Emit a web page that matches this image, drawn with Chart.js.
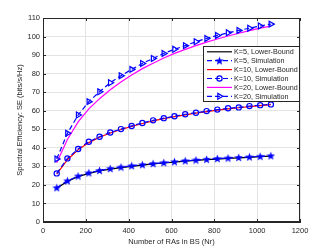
<!DOCTYPE html>
<html>
<head>
<meta charset="utf-8">
<script src="https://cdn.jsdelivr.net/npm/chart.js@4.4.1/dist/chart.umd.min.js"></script>
<style>html,body{margin:0;padding:0;background:#fff}</style>
</head>
<body>
<canvas id="chart" width="332" height="249"></canvas>
<script>
// Number of RAs in BS
const nr = [64, 114, 164, 214, 264, 314, 364, 414, 464, 514, 564, 614, 664, 714, 764, 814, 864, 914, 964, 1014, 1064];

// SE values
const k5LB  = [18.2, 21.9, 24.5, 26.2, 27.5, 28.5, 29.3, 30.0, 30.7, 31.3, 31.8, 32.3, 32.8, 33.2, 33.6, 33.9, 34.3, 34.6, 34.9, 35.2, 35.5];
const k5Sim = [18.5, 22.2, 24.8, 26.5, 27.8, 28.8, 29.6, 30.3, 30.9, 31.5, 32.0, 32.5, 33.0, 33.4, 33.8, 34.2, 34.5, 34.8, 35.1, 35.4, 35.7];
const k10LB  = [25.8, 33.6, 38.9, 42.8, 45.7, 48.0, 49.9, 51.6, 53.1, 54.5, 55.7, 56.8, 57.8, 58.7, 59.5, 60.3, 61.0, 61.6, 62.2, 62.8, 63.3];
const k10Sim = [26.2, 34.3, 39.4, 43.3, 46.0, 48.3, 50.1, 51.8, 53.4, 54.8, 56.0, 57.0, 58.1, 58.9, 59.8, 60.6, 61.3, 61.8, 62.5, 63.0, 63.4];
const k20LB  = [32.0, 44.5, 54.0, 61.0, 66.5, 71.3, 75.5, 79.3, 82.7, 85.6, 88.4, 90.9, 93.1, 95.1, 97.0, 98.7, 100.3, 101.8, 103.2, 104.5, 105.6];
const k20Sim = [34.0, 47.8, 57.7, 64.9, 70.2, 75.1, 78.9, 82.3, 85.5, 88.2, 90.9, 93.1, 95.1, 97.2, 99.0, 100.6, 102.0, 103.3, 104.5, 105.7, 106.7];

// Tick labels
const xTicks = [0, 200, 400, 600, 800, 1000, 1200];
const yTicks = [0, 10, 20, 30, 40, 50, 60, 70, 80, 90, 100, 110];

const FONT = 'Liberation Sans, Arial, Helvetica, sans-serif';
const BLUE = '#0000ff';
const AXIS = '#262626';

// filled pentagram marker (MATLAB style star)
function makeStar(size, color) {
  const c = document.createElement('canvas');
  c.width = size; c.height = size;
  const g = c.getContext('2d');
  const cx = size / 2, cy = size / 2 + 0.4, ro = size / 2, ri = ro * 0.42;
  g.beginPath();
  for (let i = 0; i < 10; i++) {
    const r = i % 2 ? ri : ro;
    const a = -Math.PI / 2 + i * Math.PI / 5;
    g.lineTo(cx + r * Math.cos(a), cy + r * Math.sin(a));
  }
  g.closePath();
  g.fillStyle = color;
  g.fill();
  return c;
}
const starImg = makeStar(9, BLUE);

function toPoints(ys) {
  return ys.map((y, i) => ({ x: nr[i], y: y }));
}

const datasets = [
  { label: 'K=5, Lower-Bound', data: toPoints(k5LB), borderColor: '#000000', borderWidth: 1.2, pointRadius: 0, order: 1 },
  { label: 'K=5, Simulation', data: toPoints(k5Sim), borderColor: BLUE, borderWidth: 1.2, borderDash: [5, 3],
    pointStyle: starImg, pointRadius: 4.5, order: 0 },
  { label: 'K=10, Lower-Bound', data: toPoints(k10LB), borderColor: '#ff0000', borderWidth: 1.2, pointRadius: 0, order: 1 },
  { label: 'K=10, Simulation', data: toPoints(k10Sim), borderColor: BLUE, borderWidth: 1.2, borderDash: [5, 3],
    pointStyle: 'circle', pointRadius: 2.6, pointBorderWidth: 1.2, pointBackgroundColor: 'rgba(0,0,0,0)', pointBorderColor: BLUE, order: 0 },
  { label: 'K=20, Lower-Bound', data: toPoints(k20LB), borderColor: '#ff00ff', borderWidth: 1.2, pointRadius: 0, order: 1 },
  { label: 'K=20, Simulation', data: toPoints(k20Sim), borderColor: BLUE, borderWidth: 1.2, borderDash: [5, 3],
    pointStyle: 'triangle', pointRotation: 90, pointRadius: 3.4, pointBorderWidth: 1.2, pointBackgroundColor: 'rgba(0,0,0,0)', pointBorderColor: BLUE, order: 0 }
];

// box, inward ticks and legend like the MATLAB figure
const matlabFrame = {
  id: 'matlabFrame',
  afterDraw(chart) {
    const ctx = chart.ctx;
    const a = chart.chartArea;
    const xs = chart.scales.x, ys = chart.scales.y;
    ctx.save();
    ctx.strokeStyle = AXIS;
    ctx.lineWidth = 1;
    ctx.strokeRect(a.left + 0.5, a.top + 0.5, a.right - a.left - 1, a.bottom - a.top - 1);
    ctx.beginPath();
    xTicks.forEach(v => {
      const px = Math.round(xs.getPixelForValue(v)) + 0.5;
      ctx.moveTo(px, a.bottom); ctx.lineTo(px, a.bottom - 3);
      ctx.moveTo(px, a.top); ctx.lineTo(px, a.top + 3);
    });
    yTicks.forEach(v => {
      const py = Math.round(ys.getPixelForValue(v)) + 0.5;
      ctx.moveTo(a.left, py); ctx.lineTo(a.left + 3, py);
      ctx.moveTo(a.right, py); ctx.lineTo(a.right - 3, py);
    });
    ctx.stroke();

    // legend
    const lx = 203, ly = 46, lw = 96, lh = 55, rowH = 8.9;
    ctx.fillStyle = '#ffffff';
    ctx.fillRect(lx, ly, lw, lh);
    ctx.strokeRect(lx + 0.5, ly + 0.5, lw, lh);
    ctx.font = '7.2px ' + FONT;
    ctx.textBaseline = 'middle';
    chart.data.datasets.forEach((ds, i) => {
      const y = ly + 5.8 + i * rowH;
      ctx.strokeStyle = ds.borderColor;
      ctx.lineWidth = ds.borderWidth;
      ctx.setLineDash(ds.borderDash || []);
      ctx.beginPath();
      ctx.moveTo(207, y); ctx.lineTo(232, y);
      ctx.stroke();
      ctx.setLineDash([]);
      if (ds.pointRadius > 0) {
        ctx.fillStyle = ds.pointBackgroundColor || BLUE;
        ctx.strokeStyle = ds.pointBorderColor || BLUE;
        ctx.lineWidth = ds.pointBorderWidth || 1;
        Chart.helpers.drawPoint(ctx, {
          pointStyle: ds.pointStyle, radius: ds.pointRadius,
          rotation: ds.pointRotation || 0, borderWidth: ds.pointBorderWidth || 1
        }, 219.5, y);
      }
      ctx.fillStyle = AXIS;
      ctx.fillText(ds.label, 234, y + 0.5);
    });
    ctx.restore();
  }
};

new Chart(document.getElementById('chart'), {
  type: 'line',
  data: { datasets: datasets },
  options: {
    responsive: false,
    animation: false,
    devicePixelRatio: 1,
    layout: { padding: { top: 18, right: 32, left: 0, bottom: 0 } },
    plugins: { legend: { display: false }, tooltip: { enabled: false } },
    elements: { line: { tension: 0 } },
    scales: {
      x: {
        type: 'linear', min: 0, max: 1200,
        afterFit: s => { s.height = 27; },
        afterBuildTicks: s => { s.ticks = xTicks.map(v => ({ value: v })); },
        ticks: { color: AXIS, font: { family: FONT, size: 7.5 }, padding: 4, maxRotation: 0,
                 callback: v => String(v) },
        grid: { color: '#e3e3e3', drawTicks: false },
        border: { color: AXIS },
        title: { display: true, text: 'Number of RAs in BS (Nr)', color: AXIS,
                 font: { family: FONT, size: 7.5 }, padding: { top: 0, bottom: 2.5 } }
      },
      y: {
        min: 0, max: 110,
        afterFit: s => { s.width = 43; },
        afterBuildTicks: s => { s.ticks = yTicks.map(v => ({ value: v })); },
        ticks: { color: AXIS, font: { family: FONT, size: 7.5 }, padding: 3,
                 callback: v => String(v) },
        grid: { color: '#e3e3e3', drawTicks: false },
        border: { color: AXIS },
        title: { display: true, text: 'Spectral Efficiency: SE (bits/s/Hz)', color: AXIS,
                 font: { family: FONT, size: 7.5 }, padding: { top: 15.5, bottom: 0 } }
      }
    }
  },
  plugins: [matlabFrame]
});
</script>
</body>
</html>
